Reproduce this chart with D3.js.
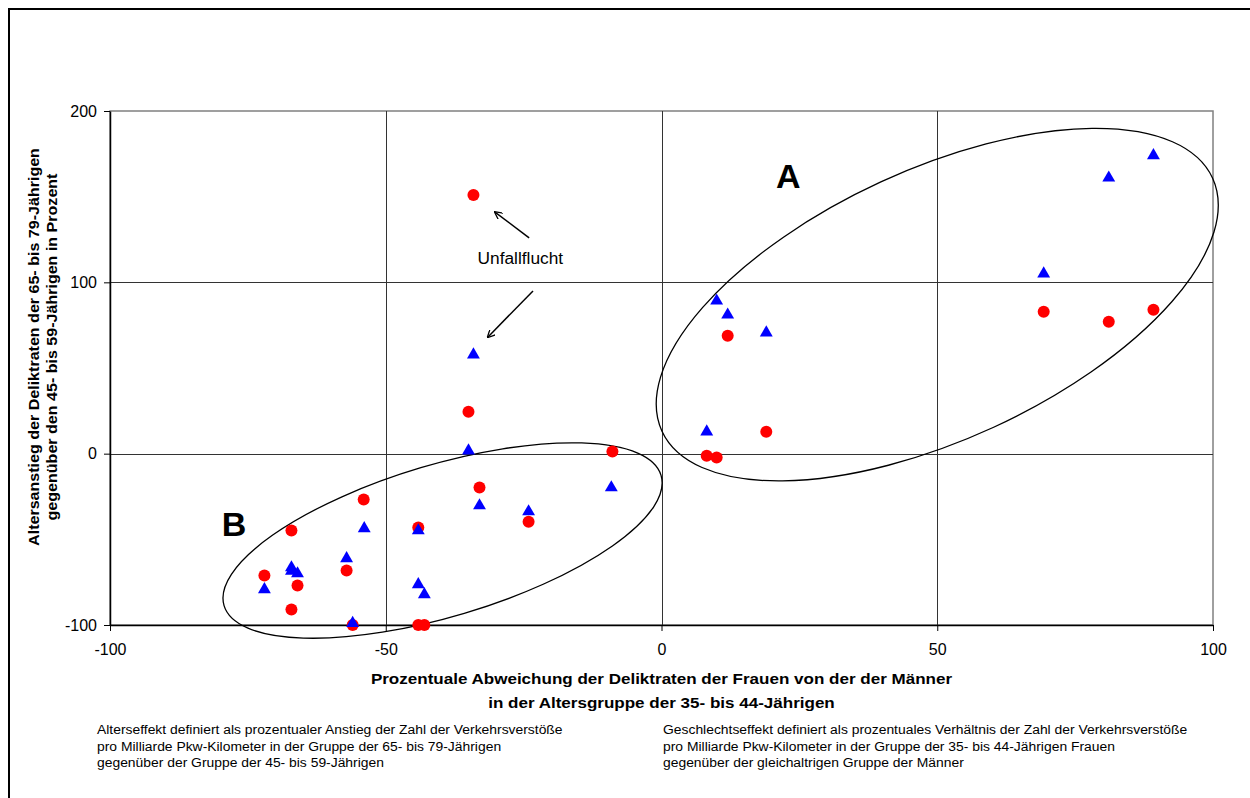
<!DOCTYPE html>
<html>
<head>
<meta charset="utf-8">
<script src="https://cdn.jsdelivr.net/npm/d3@7"></script>
<style>
  html, body { margin: 0; padding: 0; background: #fff; }
  svg { display: block; font-family: "Liberation Sans", Arial, sans-serif; }
</style>
</head>
<body>
<svg id="chart" width="1250" height="798"></svg>
<script>
// Axis ticks
const xTicks = [-100, -50, 0, 50, 100];
const yTicks = [-100, 0, 100, 200];

// Red circles: gender effect (x) vs. age effect (y), in percent
const redX = [-34.1, -35.0, -8.9, -54.0, -33.0, -67.1, -44.1, -24.1, -72.0, -57.1, -66.0, -67.1, -56.0, -44.1, -43.0,
              12.0, 19.0, 8.2, 10.0, 69.3, 81.1, 89.2];
const redY = [151.0, 24.5, 1.2, -26.8, -19.8, -44.9, -43.1, -39.7, -71.1, -68.2, -77.0, -91.0, -100, -100, -100,
              68.8, 12.8, -1.2, -2.3, 82.8, 77.0, 84.0];

// Blue triangles: gender effect (x) vs. age effect (y), in percent
const blueX = [-34.1, -35.0, -9.1, -33.0, -24.1, -53.9, -44.1, -57.1, -67.1, -67.1, -66.0, -72.0, -44.1, -43.0, -56.0,
               10.0, 12.0, 19.0, 8.2, 69.3, 81.1, 89.2];
const blueY = [57.7, 1.7, -19.8, -30.3, -33.8, -43.7, -44.9, -61.2, -66.5, -68.5, -70.0, -79.3, -76.4, -82.2, -99.0,
               89.2, 81.0, 70.6, 12.8, 105.0, 161.0, 174.0];

const xTitle = ["Prozentuale Abweichung der Deliktraten der Frauen von der der Männer",
                "in der Altersgruppe der 35- bis 44-Jährigen"];
const yTitle = ["Altersanstieg der Deliktraten der 65- bis 79-Jährigen",
                "gegenüber den 45- bis 59-Jährigen in Prozent"];
const noteLeft = ["Alterseffekt definiert als prozentualer Anstieg der Zahl der Verkehrsverstöße",
                  "pro Milliarde Pkw-Kilometer in der Gruppe der 65- bis 79-Jährigen",
                  "gegenüber der Gruppe der 45- bis 59-Jährigen"];
const noteRight = ["Geschlechtseffekt definiert als prozentuales Verhältnis der Zahl der Verkehrsverstöße",
                   "pro Milliarde Pkw-Kilometer in der Gruppe der 35- bis 44-Jährigen Frauen",
                   "gegenüber der gleichaltrigen Gruppe der Männer"];

const svg = d3.select("#chart");
const plot = { left: 110, top: 111, right: 1213, bottom: 625 };

const x = d3.scaleLinear().domain([-100, 100]).range([plot.left, plot.right]);
const y = d3.scaleLinear().domain([-100, 200]).range([plot.bottom, plot.top]);

// Stretch a text element horizontally to a given width
function stretch(sel, factor) {
  sel.each(function () {
    const w = this.getComputedTextLength();
    d3.select(this).attr("textLength", w * factor).attr("lengthAdjust", "spacingAndGlyphs");
  });
}

// Outer frame
svg.append("rect")
  .attr("x", 9).attr("y", 9).attr("width", 1260).attr("height", 820)
  .attr("fill", "none").attr("stroke", "#000").attr("stroke-width", 2);

// Plot frame (top and right edges)
svg.append("rect")
  .attr("x", plot.left).attr("y", plot.top)
  .attr("width", plot.right - plot.left).attr("height", plot.bottom - plot.top)
  .attr("fill", "none").attr("stroke", "#808080").attr("stroke-width", 1.5);

// Grid lines
const grid = svg.append("g").attr("stroke", "#333").attr("stroke-width", 1);
grid.selectAll("line.v").data(xTicks.filter(d => d > -100 && d < 100)).join("line")
  .attr("x1", d => Math.round(x(d)) + 0.5).attr("x2", d => Math.round(x(d)) + 0.5)
  .attr("y1", plot.top).attr("y2", plot.bottom);
grid.selectAll("line.h").data(yTicks.filter(d => d > -100 && d < 200)).join("line")
  .attr("y1", d => Math.round(y(d)) + 0.5).attr("y2", d => Math.round(y(d)) + 0.5)
  .attr("x1", plot.left).attr("x2", plot.right);

// Axes (plain hyphen-minus in labels)
const fmt = d => String(d);
const xAxis = svg.append("g")
  .attr("transform", `translate(0,${plot.bottom})`)
  .call(d3.axisBottom(x).tickValues(xTicks).tickFormat(fmt).tickSize(6).tickPadding(13).tickSizeOuter(0));
const yAxis = svg.append("g")
  .attr("transform", `translate(${plot.left},0)`)
  .call(d3.axisLeft(y).tickValues(yTicks).tickFormat(fmt).tickSize(6).tickPadding(7).tickSizeOuter(0));
[xAxis, yAxis].forEach(a => {
  a.select(".domain").attr("stroke", "#000").attr("stroke-width", 1.5);
  a.selectAll(".tick line").attr("stroke", "#000");
  a.selectAll(".tick text").attr("fill", "#000")
    .style("font-size", "16px").style("font-family", '"Liberation Sans", Arial, sans-serif');
});

// Cluster ellipses
const ellipses = [
  { label: "A", cx: 50.0, cy: 87.0, rx: 303, ry: 135, angle: -24.7, lx: 23, ly: 162 },
  { label: "B", cx: -39.7, cy: -50.7, rx: 228, ry: 76, angle: -16.6, lx: -77.5, ly: -41 }
];
svg.append("g").selectAll("ellipse").data(ellipses).join("ellipse")
  .attr("transform", d => `translate(${x(d.cx)},${y(d.cy)}) rotate(${d.angle})`)
  .attr("rx", d => d.rx).attr("ry", d => d.ry)
  .attr("fill", "none").attr("stroke", "#000").attr("stroke-width", 1.3);
svg.append("g").selectAll("text").data(ellipses).join("text")
  .attr("x", d => x(d.lx)).attr("y", d => y(d.ly))
  .attr("text-anchor", "middle").attr("dominant-baseline", "central")
  .style("font-size", "34px").style("font-weight", "bold")
  .text(d => d.label);

// Markers
svg.append("g").selectAll("circle").data(d3.range(redX.length)).join("circle")
  .attr("cx", i => x(redX[i])).attr("cy", i => y(redY[i]))
  .attr("r", 6).attr("fill", "#ff0000");
const tri = d3.symbol().type(d3.symbolTriangle).size(72);
svg.append("g").selectAll("path").data(d3.range(blueX.length)).join("path")
  .attr("transform", i => `translate(${x(blueX[i])},${y(blueY[i])})`)
  .attr("d", tri).attr("fill", "#0000ff");

// Unfallflucht annotation
const defs = svg.append("defs");
defs.append("marker").attr("id", "arrowhead")
  .attr("viewBox", "0 0 10 10").attr("refX", 9).attr("refY", 5)
  .attr("markerWidth", 8).attr("markerHeight", 8).attr("orient", "auto-start-reverse")
  .attr("markerUnits", "userSpaceOnUse")
  .append("path").attr("d", "M0,0 L10,5 L0,10").attr("fill", "none")
  .attr("stroke", "#000").attr("stroke-width", 1.6);
const arrows = [
  { x1: -24.0, y1: 126, x2: -30.2, y2: 141 },
  { x1: -23.3, y1: 95, x2: -31.5, y2: 68 }
];
svg.append("g").selectAll("line").data(arrows).join("line")
  .attr("x1", d => x(d.x1)).attr("y1", d => y(d.y1))
  .attr("x2", d => x(d.x2)).attr("y2", d => y(d.y2))
  .attr("stroke", "#000").attr("stroke-width", 1.5)
  .attr("marker-end", "url(#arrowhead)");
svg.append("text")
  .attr("x", x(-25.6)).attr("y", y(113.7))
  .attr("text-anchor", "middle").attr("dominant-baseline", "central")
  .style("font-size", "16px").text("Unfallflucht")
  .call(stretch, 1.08);

// Axis titles
svg.append("g").selectAll("text").data(xTitle).join("text")
  .attr("x", (plot.left + plot.right) / 2).attr("y", (d, i) => 684 + i * 24)
  .attr("text-anchor", "middle")
  .style("font-size", "15px").style("font-weight", "bold").text(d => d)
  .call(stretch, 1.135);
svg.append("g").attr("transform", "translate(0,347) rotate(-90)")
  .selectAll("text").data(yTitle).join("text")
  .attr("x", 0).attr("y", (d, i) => 39 + i * 18)
  .attr("text-anchor", "middle")
  .style("font-size", "15px").style("font-weight", "bold").text(d => d)
  .call(stretch, 1.07);

// Footnotes
const notes = svg.append("g").style("font-size", "12.5px");
notes.selectAll("text.l").data(noteLeft).join("text")
  .attr("x", 97).attr("y", (d, i) => 734 + i * 16.5).text(d => d)
  .call(stretch, 1.11);
notes.selectAll("text.r").data(noteRight).join("text")
  .attr("x", 663).attr("y", (d, i) => 734 + i * 16.5).text(d => d)
  .call(stretch, 1.11);
</script>
</body>
</html>
